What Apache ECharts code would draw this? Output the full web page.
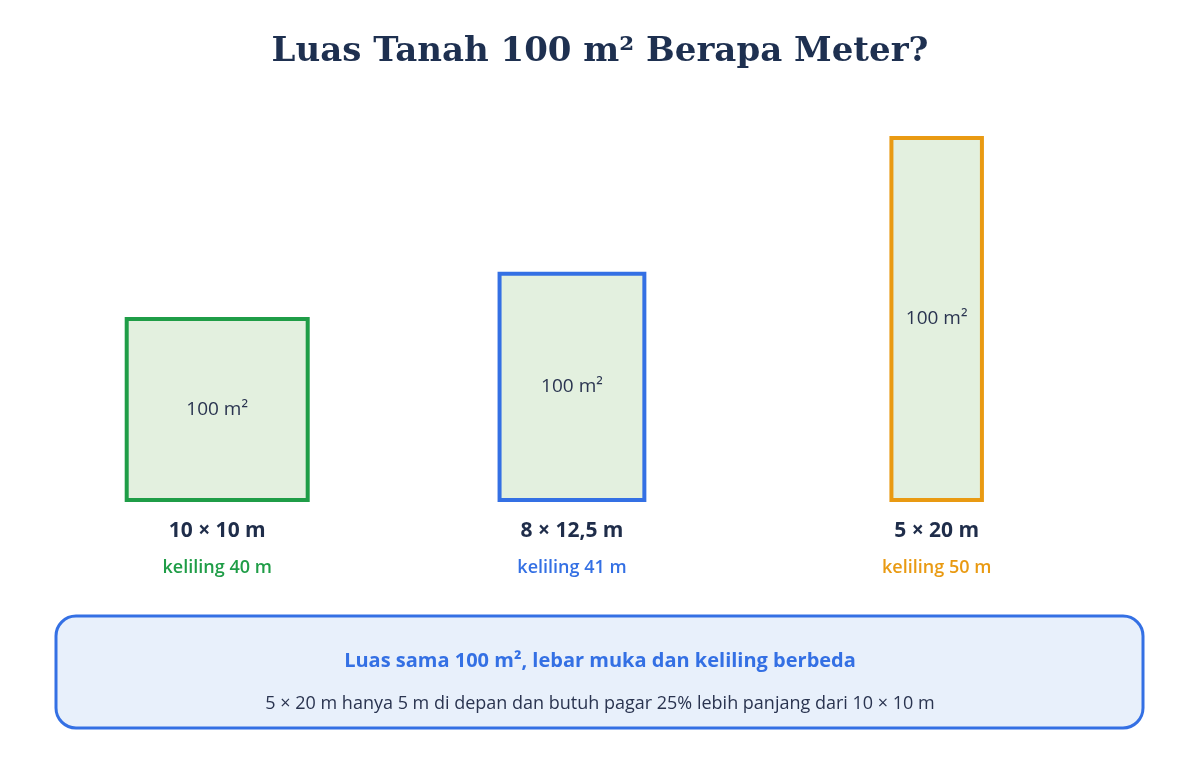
<!DOCTYPE html>
<html><head><meta charset="utf-8">
<script src="https://cdn.jsdelivr.net/npm/echarts@6/dist/echarts.min.js"></script>
<style>html,body{margin:0;background:#fff}#c{width:1200px;height:760px}</style></head>
<body><div id="c"></div>
<script>
const dimLabels = ['10 × 10 m', '8 × 12,5 m', '5 × 20 m'];
const widths = [10, 8, 5];
const lengths = [10, 12.5, 20];
const perimLabels = ['keliling 40 m', 'keliling 41 m', 'keliling 50 m'];
const areaLabel = '100 m²';
const colors = ['#1f9d47', '#3470e4', '#e99a12'];
const centers = [12.0, 31.6, 51.75];
const PX = 18.1;
const chart = echarts.init(document.getElementById('c'));
const font = '"Open Sans", Inter, "Noto Sans", sans-serif';
chart.setOption({
  title: { text: 'Luas Tanah 100 m² Berapa Meter?', left: 'center', top: 30,
    textStyle: { fontFamily: '"DejaVu Serif", "Liberation Serif", serif', fontWeight: 'bold', fontSize: 34, color: '#1e3050' } },
  grid: { left: 0, top: 0, width: 1200, height: 500 },
  xAxis: { type: 'value', min: 0, max: 1200 / PX, show: false },
  yAxis: { type: 'value', min: 0, max: 500 / PX, show: false },
  series: [{
    type: 'custom',
    data: widths.map((w, i) => [centers[i], w, lengths[i], i]),
    renderItem: (params, api) => {
      const i = api.value(3);
      const c = api.coord([api.value(0), 0]);
      const s = api.size([api.value(1), api.value(2)]);
      const x = c[0] - s[0] / 2, y = c[1] - s[1];
      return { type: 'group', children: [
        { type: 'rect', shape: { x: x, y: y, width: s[0], height: s[1] },
          style: { fill: '#e3f0df', stroke: colors[i], lineWidth: 4 } },
        { type: 'text', style: { text: areaLabel, x: c[0], y: y + s[1] / 2, align: 'center', verticalAlign: 'middle',
          font: '500 19px ' + font, fill: '#2a3450' } },
        { type: 'text', style: { text: dimLabels[i], x: c[0], y: c[1] + 31, align: 'center', verticalAlign: 'middle',
          font: 'bold 21px ' + font, fill: '#1f2d4a' } },
        { type: 'text', style: { text: perimLabels[i], x: c[0], y: c[1] + 68, align: 'center', verticalAlign: 'middle',
          font: '600 18px ' + font, fill: colors[i] } }
      ]};
    }
  }],
  graphic: [
    { type: 'rect', shape: { x: 56, y: 616, width: 1087, height: 112, r: 20 },
      style: { fill: '#e8f0fb', stroke: '#3470e4', lineWidth: 3 } },
    { type: 'text', style: { text: 'Luas sama 100 m², lebar muka dan keliling berbeda', x: 600, y: 661, align: 'center', verticalAlign: 'middle',
      font: 'bold 20px ' + font, fill: '#3470e4' } },
    { type: 'text', style: { text: '5 × 20 m hanya 5 m di depan dan butuh pagar 25% lebih panjang dari 10 × 10 m', x: 600, y: 704, align: 'center', verticalAlign: 'middle',
      font: '18px ' + font, fill: '#2a3450' } }
  ]
});
</script></body></html>
